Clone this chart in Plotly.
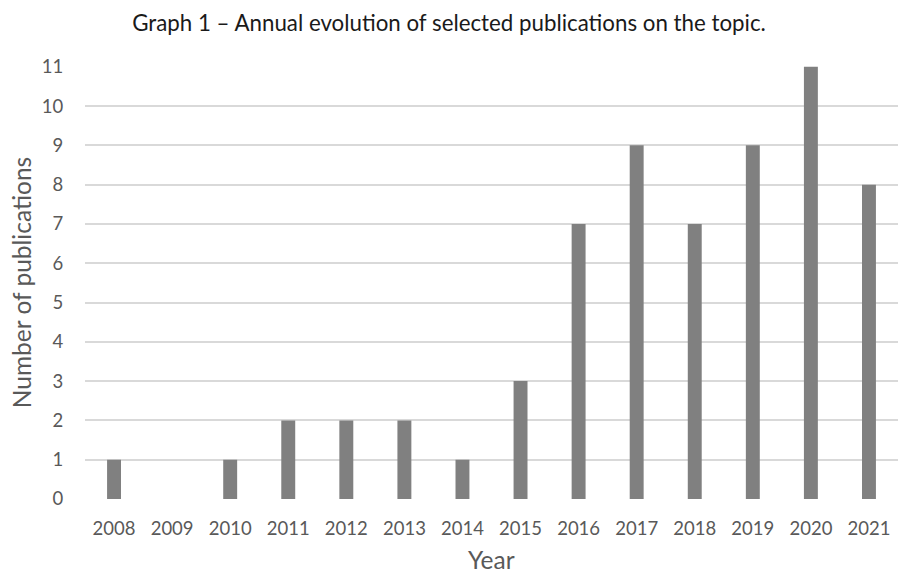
import plotly.graph_objects as go

# Publications per year
years = ["2008", "2009", "2010", "2011", "2012", "2013", "2014",
         "2015", "2016", "2017", "2018", "2019", "2020", "2021"]
publications = [1, 0, 1, 2, 2, 2, 1, 3, 7, 9, 7, 9, 11, 8]

y_ticks = list(range(0, 12))

FONT = "Lato"
TICK_COLOR = "#595959"
GRID_COLOR = "#d9d9d9"

WIDTH, HEIGHT = 898, 573
MARGIN = dict(l=85, r=0, t=66, b=74)
PLOT_H = HEIGHT - MARGIN["t"] - MARGIN["b"]

fig = go.Figure(
    go.Bar(
        x=years,
        y=publications,
        marker=dict(color="#808080", line=dict(width=0)),
        width=0.24,
        hoverinfo="x+y",
    )
)

fig.update_layout(
    width=WIDTH,
    height=HEIGHT,
    margin=MARGIN,
    paper_bgcolor="white",
    plot_bgcolor="white",
    showlegend=False,
    title=dict(
        text="Graph 1 – Annual evolution of selected publications on the topic.",
        x=0.5,
        xref="container",
        xanchor="center",
        y=1 - 23.5 / HEIGHT,
        yanchor="middle",
        font=dict(family=FONT, size=22.3, color="#1a1a1a"),
    ),
    xaxis=dict(
        type="category",
        automargin=False,
        showgrid=False,
        showline=False,
        zeroline=False,
        ticks="outside",
        ticklen=13,
        tickcolor="rgba(0,0,0,0)",
        tickfont=dict(family=FONT, size=18.5, color=TICK_COLOR),
    ),
    yaxis=dict(
        automargin=False,
        range=[0, 11.02],
        tickvals=y_ticks,
        showgrid=True,
        gridcolor=GRID_COLOR,
        gridwidth=1.6,
        zeroline=False,
        showline=False,
        ticks="outside",
        ticklen=17,
        tickcolor="rgba(0,0,0,0)",
        tickfont=dict(family=FONT, size=18.5, color=TICK_COLOR),
        title=dict(text="Number of publications", font=dict(family=FONT, size=24.5, color=TICK_COLOR), standoff=3),
    ),
    annotations=[
        # x-axis title, sitting below the year labels
        dict(
            text="Year",
            xref="paper", yref="paper",
            x=0.5, y=-60 / PLOT_H,
            xanchor="center", yanchor="middle",
            showarrow=False,
            font=dict(family=FONT, size=24.5, color=TICK_COLOR),
        )
    ],
)

fig.write_html("out.html")
